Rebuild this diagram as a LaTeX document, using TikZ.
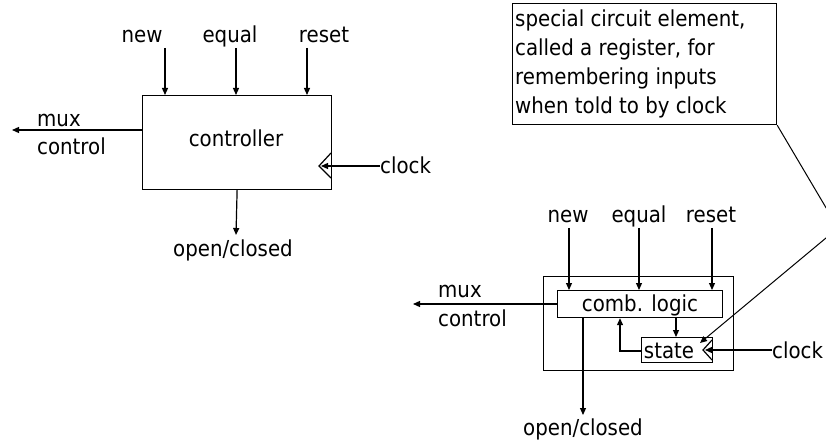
\documentclass[tikz,border=0pt]{standalone}
\usepackage{fontspec}
\setmainfont{DejaVu Sans Condensed}
\usetikzlibrary{arrows.meta}
\begin{document}
\begin{tikzpicture}[x=1pt,y=-1pt,
  font=\fontsize{22}{29}\selectfont,
  box/.style={draw, line width=1.2pt, inner sep=0pt},
  arr/.style={-{Triangle[length=7pt,width=6pt]}, line width=1.2pt},
  wire/.style={line width=1.2pt},
  lbl/.style={inner sep=0pt, anchor=base},
  lbll/.style={inner sep=0pt, anchor=base west}]
\useasboundingbox (0,0) rectangle (826,443);
\clip (0,0) rectangle (826,443);

% ---------- left: controller ----------
\node[box, minimum width=189pt, minimum height=94pt, anchor=north west] (ctrl) at (142,95) {};
\node[lbl] (ctrlt) at (236,147) {controller};
\node[lbl] (lnew) at (142,43) {new};
\node[lbl] (leq) at (230,43) {equal};
\node[lbl] (lres) at (324,43) {reset};
\coordinate (in1) at (165,48);
\coordinate (in2) at (236,48);
\coordinate (in3) at (307,48);
\draw[arr] (in1) -- (in1 |- ctrl.north);
\draw[arr] (in2) -- (in2 |- ctrl.north);
\draw[arr] (in3) -- (in3 |- ctrl.north);
\coordinate (mux1) at (12,130);
\draw[arr] (ctrl.west |- mux1) -- (mux1);
\node[lbll] (lmux1) at (37,127) {mux};
\node[lbll] (lctl1) at (37,155) {control};
\coordinate (ck1a) at (331,153);
\coordinate (ck1b) at (319,166);
\coordinate (ck1c) at (331,178);
\draw[wire] (ck1a) -- (ck1b) -- (ck1c);
\node[lbll] (lclk1) at (380,174) {clock};
\draw[arr] (lclk1.west |- ck1b) -- ([xshift=2pt]ck1b);
\coordinate (oc1) at (236,235);
\draw[arr] (ctrl.south) -- (oc1);
\node[lbl] (loc1) at (233,257) {open/closed};

% ---------- callout ----------
\node[box, minimum width=264pt, minimum height=121pt, anchor=north west] (note) at (512,3) {};
\node[lbll] (t1) at (515,27) {special circuit element,};
\node[lbll] (t2) at (515,56) {called a register, for};
\node[lbll] (t3) at (515,85) {remembering inputs};
\node[lbll] (t4) at (515,114) {when told to by clock};

% ---------- right: comb logic + state ----------
\node[box, minimum width=190pt, minimum height=94pt, anchor=north west] (outer) at (543,276) {};
\node[box, minimum width=165pt, minimum height=27pt, anchor=north west] (comb) at (557,290) {};
\node[lbl] (combt) at (640,311) {comb. logic};
\node[box, minimum width=71pt, minimum height=25pt, anchor=north west] (state) at (641,337) {};
\node[lbl] (statet) at (669,358) {state};
\coordinate (ck2a) at (712,340);
\coordinate (ck2b) at (703,350);
\coordinate (ck2c) at (712,360);
\draw[wire] (ck2a) -- (ck2b) -- (ck2c);
\node[lbll] (lclk2) at (772,358) {clock};
\draw[arr] (lclk2.west |- ck2b) -- ([xshift=2pt]ck2b);

\node[lbl] (rnew) at (568,223) {new};
\node[lbl] (req) at (639,223) {equal};
\node[lbl] (rres) at (711,223) {reset};
\coordinate (rin1) at (569,228);
\coordinate (rin2) at (639,228);
\coordinate (rin3) at (712,228);
\draw[arr] (rin1) -- (rin1 |- comb.north);
\draw[arr] (rin2) -- (rin2 |- comb.north);
\draw[arr] (rin3) -- (rin3 |- comb.north);

\coordinate (mux2) at (413,304);
\draw[arr] (comb.west |- mux2) -- (mux2);
\node[lbll] (lmux2) at (438,298) {mux};
\node[lbll] (lctl2) at (438,326) {control};

\coordinate (cs) at (676,317);
\draw[arr] (cs) -- (cs |- state.north);
\coordinate (fb) at (620,351);
\draw[arr] (state.west |- fb) -- (fb) -- (fb |- comb.south);

\coordinate (oc2top) at (583,317);
\coordinate (oc2) at (583,415);
\draw[arr] (oc2top) -- (oc2);
\node[lbl] (loc2) at (583,435) {open/closed};

% callout pointer
\coordinate (bend) at (838,228);
\coordinate (ptr) at (700,343);
\draw[-{Triangle[length=7pt,width=6pt]}, line width=1pt] (note.south east) -- (bend) -- (ptr);
\end{tikzpicture}
\end{document}
